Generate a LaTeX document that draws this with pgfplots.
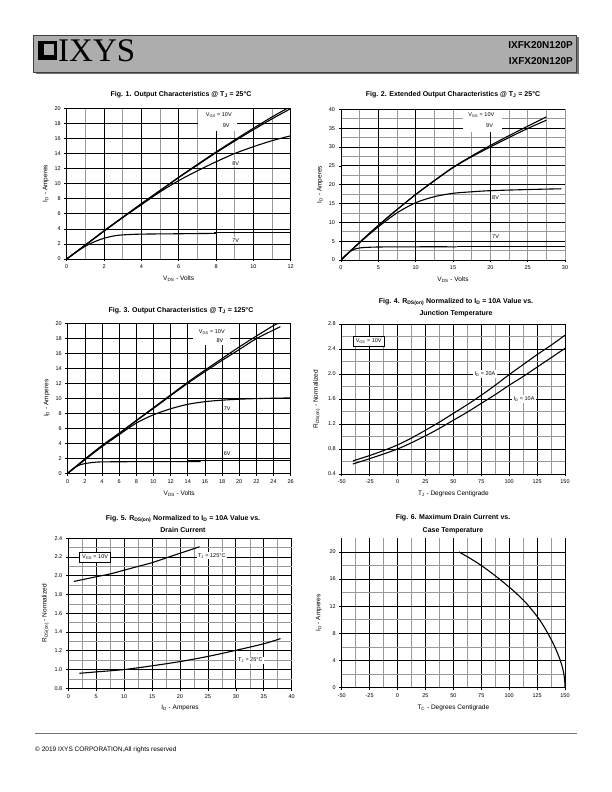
\documentclass[border=0pt]{standalone}
\usepackage{fontspec}
\setmainfont{Liberation Sans}
\newfontfamily\logofont{Liberation Serif}
\usepackage{pgfplots}
\pgfplotsset{compat=1.18}
\pgfplotsset{
  ds/.style={
    scale only axis, anchor=south west,
    axis x line*=bottom, axis y line*=left,
    axis line style={black, line width=0.7pt, -},
    tick align=outside, major tick length=2.5pt, minor tick length=0pt,
    tick style={black, line width=0.6pt},
    grid=both,
    major grid style={black, line width=0.7pt},
    minor grid style={black!40, line width=0.6pt},
    /pgf/number format/assume math mode=true,
    tick label style={font=\fontsize{5.5}{6}\selectfont},
    xlabel style={font=\fontsize{6.5}{7}\selectfont, at={(axis description cs:0.5,0)}, anchor=center, yshift=-20pt},
    ylabel style={font=\fontsize{6.5}{7}\selectfont, at={(axis description cs:0,0.5)}, anchor=center, yshift=21pt},
    no markers,
    every axis plot/.append style={smooth},
    every axis plot post/.append style={black, mark=none},
  },
}
\tikzset{
  lab/.style={fill=white, inner sep=1.2pt, font=\fontsize{5.5}{6}\selectfont},
  txt/.style={inner sep=0pt, font=\fontsize{5.5}{6}\selectfont},
  bx/.style={fill=white, draw=black, line width=0.8pt, inner sep=2.5pt, font=\fontsize{5.5}{6}\selectfont},
  ttl/.style={font=\bfseries\fontsize{7}{12.5}\selectfont, align=center},
  crv/.style={line width=1.1pt},
}
\begin{document}
\begin{tikzpicture}[x=1pt,y=1pt]
\useasboundingbox (0,0) rectangle (612,792);
% ---------- header ----------
\fill[black!55] (36,718) rectangle (579,755);
\filldraw[fill=black!32, draw=black!75, line width=0.8pt] (33,720) rectangle (576,757);
\fill[black] (38,732) rectangle (57,751);
\fill[black!32] (43.5,737) rectangle (53.5,747.5);
\node[anchor=west, inner sep=0pt, font=\logofont\fontsize{33}{34}\selectfont] at (58,741) {IXYS};
\node[anchor=east, inner sep=0pt, font=\bfseries\fontsize{10}{11}\selectfont] at (573,747) {IXFK20N120P};
\node[anchor=east, inner sep=0pt, font=\bfseries\fontsize{10}{11}\selectfont] at (573,731) {IXFX20N120P};
% ---------- footer ----------
\draw[black!55, line width=0.6pt] (35,59) -- (577,59);
\node[anchor=west, inner sep=0pt, font=\fontsize{6.5}{7}\selectfont] at (35,42) {© 2019 IXYS CORPORATION,All rights reserved};
% ---------- titles ----------
\node[ttl] at (181,697) {Fig. 1. Output Characteristics @ T\textsubscript{J} = 25°C};
\node[ttl] at (453,697) {Fig. 2. Extended Output Characteristics @ T\textsubscript{J} = 25°C};
\node[ttl] at (181,481) {Fig. 3. Output Characteristics @ T\textsubscript{J} = 125°C};
\node[ttl] at (456,484.5) {Fig. 4. R\textsubscript{DS(on)} Normalized to I\textsubscript{D} = 10A Value vs.\\Junction Temperature};
\node[ttl] at (183,268) {Fig. 5. R\textsubscript{DS(on)} Normalized to I\textsubscript{D} = 10A Value vs.\\Drain Current};
\node[ttl] at (453,268) {Fig. 6. Maximum Drain Current vs.\\Case Temperature};

% ---------- Fig 1 ----------
\begin{axis}[ds, at={(66.7pt,533pt)}, width=224pt, height=150.7pt,
  xmin=0, xmax=12, ymin=0, ymax=20,
  xtick={0,2,...,12}, minor xtick={1,3,...,11}, ytick={0,2,...,20},
  xlabel={V\textsubscript{DS} - Volts}, ylabel={I\textsubscript{D} - Amperes}]
\fill[white] (axis cs:7.05,17) rectangle (axis cs:9.1,19.9);
\addplot[crv] coordinates {(0,0) (1,1.85) (2,3.75) (3,5.55) (4,7.35) (5,9.1) (6,10.85) (7,12.55) (8,14.2) (9,15.8) (10,17.35) (11,18.85) (12,20.25)};
\addplot[crv] coordinates {(0,0) (1,1.85) (2,3.7) (3,5.5) (4,7.3) (5,9.05) (6,10.8) (7,12.45) (8,14.1) (9,15.65) (10,17.15) (11,18.6) (12,19.95)};
\addplot[crv] coordinates {(0,0) (1,1.85) (2,3.7) (3,5.5) (4,7.2) (5,8.9) (6,10.4) (7,11.7) (8,12.9) (9,14.0) (10,14.9) (11,15.7) (12,16.35)};
\addplot[crv] coordinates {(0,0) (0.5,0.9) (1,1.7) (1.5,2.3) (2,2.75) (2.5,3.05) (3,3.2) (4,3.3) (6,3.35) (8,3.4)};
\addplot[sharp plot, line width=0.7pt] coordinates {(7.9,3.5) (12,3.5)};
\node[txt] at (axis cs:8.15,19.1) {V\textsubscript{GS} = 10V};
\node[txt] at (axis cs:8.55,17.75) {9V};
\node[lab] at (axis cs:9.05,12.7) {8V};
\node[lab] at (axis cs:9.05,2.5) {7V};
\end{axis}

% ---------- Fig 2 ----------
\begin{axis}[ds, at={(341pt,532pt)}, width=224pt, height=150.7pt,
  xmin=0, xmax=30, ymin=0, ymax=40,
  xtick={0,5,...,30}, minor xtick={2.5,5,...,30}, ytick={0,5,...,40}, minor ytick={2.5,7.5,...,37.5},
  xmajorgrids=false,
  xlabel={V\textsubscript{DS} - Volts}, ylabel={I\textsubscript{D} - Amperes}]
\draw[black, line width=0.7pt] (axis cs:5,0) -- (axis cs:5,40);
\draw[black, line width=0.7pt] (axis cs:10,0) -- (axis cs:10,40);
\draw[black, line width=0.7pt] (axis cs:20,7.3) -- (axis cs:20,34);
\fill[white] (axis cs:16.4,34) rectangle (axis cs:21.5,39.8);
\addplot[crv] coordinates {(0,0) (2.5,4.7) (5,9.2) (7.5,13.4) (10,17.4) (12.5,21.1) (15,24.6) (17.5,27.6) (20,30.4) (22.5,33.0) (25,35.5) (27.5,38.0)};
\addplot[crv] coordinates {(0,0) (2.5,4.7) (5,9.15) (7.5,13.35) (10,17.35) (12.5,21.0) (15,24.5) (17.5,27.4) (20,30.0) (22.5,32.5) (25,34.9) (27.5,37.1)};
\addplot[crv] coordinates {(0,0) (2.5,4.6) (5,8.8) (7.5,12.5) (10,15.2) (12.5,16.8) (15,17.7) (17.5,18.1) (20,18.4) (25,18.7) (29.5,18.9)};
\addplot[crv] coordinates {(0,0) (0.5,1) (1,1.9) (1.5,2.6) (2,3.0) (2.5,3.2) (3,3.3) (5,3.45) (10,3.5) (15.5,3.5)};
\addplot[sharp plot, line width=0.7pt] coordinates {(15.5,3.65) (30,3.65)};
\node[txt] at (axis cs:18.8,38.4) {V\textsubscript{GS} = 10V};
\node[txt] at (axis cs:19.9,35.7) {9V};
\node[lab] at (axis cs:20.7,16.6) {8V};
\node[lab] at (axis cs:20.7,6.3) {7V};
\end{axis}

% ---------- Fig 3 ----------
\begin{axis}[ds, at={(67.7pt,318.7pt)}, width=223pt, height=150pt,
  xmin=0, xmax=26, ymin=0, ymax=20,
  xtick={0,2,...,26}, ytick={0,2,...,20}, minor xtick={}, minor ytick={},
  xlabel={V\textsubscript{DS} - Volts}, ylabel={I\textsubscript{D} - Amperes}]
\fill[white] (axis cs:14.6,17.1) rectangle (axis cs:18.9,19.85);
\addplot[crv] coordinates {(0,0) (2,1.9) (4,3.7) (6,5.35) (8,7.05) (10,8.75) (12,10.45) (14,12.15) (16,13.75) (18,15.3) (20,16.85) (22,18.3) (24,19.7) (24.6,20)};
\addplot[crv] coordinates {(0,0) (2,1.85) (4,3.65) (6,5.3) (8,7.0) (10,8.65) (12,10.35) (14,12.0) (16,13.55) (18,15.05) (20,16.5) (22,17.95) (24.8,19.55)};
\addplot[crv] coordinates {(0,0) (2,1.8) (4,3.55) (6,5.15) (8,6.7) (10,7.8) (12,8.6) (14,9.2) (16,9.55) (18,9.75) (20,9.88) (22,9.96) (26,10.05)};
\addplot[crv] coordinates {(0,0) (0.5,0.5) (1,0.9) (1.5,1.15) (2,1.3) (3,1.45) (4,1.52) (8,1.55) (15.5,1.55)};
\addplot[sharp plot, line width=0.7pt] coordinates {(14,1.68) (26,1.68)};
\node[txt] at (axis cs:16.8,18.8) {V\textsubscript{GS} = 10V};
\node[txt] at (axis cs:17.75,17.7) {8V};
\node[lab] at (axis cs:18.6,8.6) {7V};
\node[lab] at (axis cs:18.6,2.6) {6V};
\end{axis}

% ---------- Fig 4 ----------
\begin{axis}[ds, at={(341.7pt,318pt)}, width=223.3pt, height=150pt,
  xmin=-50, xmax=150, ymin=0.4, ymax=2.8,
  xtick={-50,-25,...,150}, minor xtick={-37.5,-12.5,...,137.5},
  ytick={0.4,0.8,1.2,1.6,2.0,2.4,2.8}, minor ytick={0.6,1.0,1.4,1.8,2.2,2.6},
  yticklabel style={/pgf/number format/.cd, fixed, fixed zerofill, precision=1},
  xlabel={T\textsubscript{J} - Degrees Centigrade}, ylabel={R\textsubscript{DS(on)} - Normalized}, ylabel style={yshift=4pt}]
\addplot[crv] coordinates {(-40,0.61) (-25,0.695) (-12.5,0.775) (0,0.865) (12.5,0.975) (25,1.10) (37.5,1.23) (50,1.37) (62.5,1.51) (75,1.66) (87.5,1.82) (100,1.99) (112.5,2.15) (125,2.31) (137.5,2.46) (150,2.62)};
\addplot[crv] coordinates {(-40,0.56) (-25,0.645) (-12.5,0.72) (0,0.80) (12.5,0.90) (25,1.01) (37.5,1.13) (50,1.26) (62.5,1.39) (75,1.53) (87.5,1.67) (100,1.82) (112.5,1.96) (125,2.11) (137.5,2.26) (150,2.41)};
\node[bx] at (axis cs:-25.8,2.525) {V\textsubscript{GS} = 10V};
\node[lab] at (axis cs:78.3,2.0) {I\textsubscript{D} = 20A};
\node[lab] at (axis cs:113.3,1.6) {I\textsubscript{D} = 10A};
\end{axis}

% ---------- Fig 5 ----------
\begin{axis}[ds, at={(68.3pt,103.7pt)}, width=223.4pt, height=150pt,
  xmin=0, xmax=40, ymin=0.8, ymax=2.4,
  xtick={0,5,...,40}, minor xtick={2.5,7.5,...,37.5},
  ytick={0.8,1.0,1.2,1.4,1.6,1.8,2.0,2.2,2.4}, minor ytick={0.9,1.1,1.3,1.5,1.7,1.9,2.1,2.3},
  yticklabel style={/pgf/number format/.cd, fixed, fixed zerofill, precision=1},
  xlabel={I\textsubscript{D} - Amperes}, ylabel={R\textsubscript{DS(on)} - Normalized}, ylabel style={yshift=2pt}]
\addplot[crv] coordinates {(1,1.94) (3,1.965) (5,1.99) (7.5,2.02) (10,2.06) (12.5,2.10) (15,2.14) (17.5,2.19) (20,2.24) (22,2.28) (23.5,2.31)};
\addplot[crv] coordinates {(2,0.96) (5,0.975) (10,1.0) (15,1.04) (20,1.085) (25,1.14) (30,1.205) (35,1.275) (38,1.33)};
\node[bx] at (axis cs:4.8,2.2) {V\textsubscript{GS} = 10V};
\node[lab] at (axis cs:25.7,2.215) {T\textsubscript{J} = 125°C};
\node[lab] at (axis cs:32.6,1.1) {T\textsubscript{J} = 25°C};
\end{axis}

% ---------- Fig 6 ----------
\begin{axis}[ds, at={(341.7pt,104.3pt)}, width=223.3pt, height=149.4pt,
  xmin=-50, xmax=150, ymin=0, ymax=22,
  xtick={-50,-25,...,150}, minor xtick={-37.5,-12.5,...,137.5},
  ytick={0,4,...,20}, minor ytick={2,6,...,18},
  xlabel={T\textsubscript{C} - Degrees Centigrade}, ylabel={I\textsubscript{D} - Amperes}, ylabel style={yshift=2pt}]
\addplot[crv] coordinates {(55,20) (65,19.05) (75,18.0) (85,16.8) (95,15.5) (105,14.1) (115,12.5) (125,10.5) (130,9.3) (135,7.9) (140,6.3) (144,4.8) (147,3.4) (149,2.0) (149.8,0.9) (150,0)};
\end{axis}
\end{tikzpicture}
\end{document}
